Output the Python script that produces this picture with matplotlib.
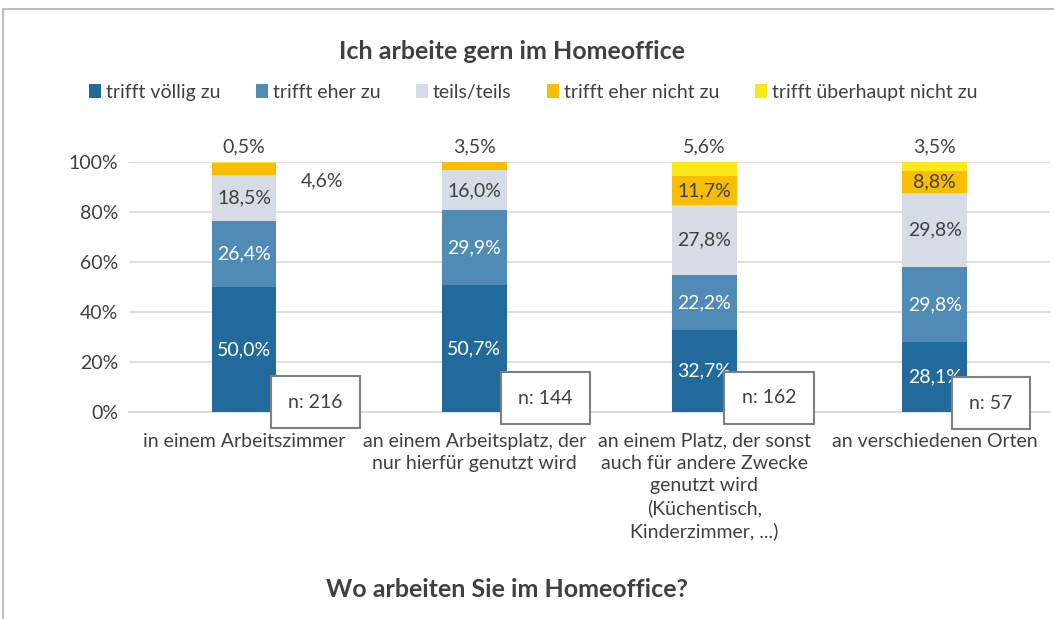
import numpy as np
import matplotlib.pyplot as plt
from matplotlib.patches import Rectangle

plt.rcParams['font.family'] = ['Lato', 'DejaVu Sans']

# Data
categories = ['in einem Arbeitszimmer',
              'an einem Arbeitsplatz, der\nnur hierfür genutzt wird',
              'an einem Platz, der sonst\nauch für andere Zwecke\ngenutzt wird\n(Küchentisch,\nKinderzimmer, ...)',
              'an verschiedenen Orten']
series_names = ['trifft völlig zu', 'trifft eher zu', 'teils/teils',
                'trifft eher nicht zu', 'trifft überhaupt nicht zu']
voellig = [50.0, 50.7, 32.7, 28.1]
eher = [26.4, 29.9, 22.2, 29.8]
teils = [18.5, 16.0, 27.8, 29.8]
eher_nicht = [4.6, 3.5, 11.7, 8.8]
gar_nicht = [0.5, 0.0, 5.6, 3.5]
n_values = [216, 144, 162, 57]

colors = ['#236A9C', '#4F8BB4', '#D6DCE5', '#F8BD07', '#FBE81A']
text_colors = ['white', 'white', '#404040', '#404040', '#404040']
dark = '#404040'
fs = 14

data = [voellig, eher, teils, eher_nicht, gar_nicht]

fig = plt.figure(figsize=(10.54, 6.19), dpi=100)
ax = fig.add_axes([0.1224, 0.3344, 0.8736, 0.4039])

x = np.arange(len(categories))
bottom = np.zeros(len(categories))
bar_width = 0.28
for i, vals in enumerate(data):
    vals = np.array(vals) / 100
    ax.bar(x, vals, bottom=bottom, width=bar_width, color=colors[i],
           label=series_names[i], zorder=3)
    for j, v in enumerate(vals):
        if v == 0:
            continue
        label = f'{v*100:.1f}%'.replace('.', ',')
        if v >= 0.08:
            ax.text(x[j], bottom[j] + v / 2, label, ha='center', va='center',
                    color=text_colors[i], fontsize=fs, zorder=4)
        elif j == 0 and i == 3:
            # small segment, label beside the bar
            ax.text(x[j] + 0.34, 0.925, label, ha='center', va='center',
                    color=dark, fontsize=fs)
        else:
            ax.text(x[j], 1.06, label, ha='center', va='center',
                    color=dark, fontsize=fs, clip_on=False)
    bottom += vals

# n boxes
n_offsets = [0.31, 0.31, 0.28, 0.245]
n_heights = [0.04, 0.056, 0.058, 0.036]
for j, n in enumerate(n_values):
    ax.text(x[j] + n_offsets[j], n_heights[j], f'n: {n}', ha='center', va='center',
            fontsize=fs, color=dark, zorder=6, clip_on=False,
            bbox=dict(boxstyle='square,pad=0.9', fc='white', ec='#7F7F7F', lw=1.5))

ax.set_xlim(-0.5, 3.5)
ax.set_ylim(0, 1)
ax.set_yticks(np.arange(0, 1.01, 0.2))
ax.set_yticklabels([f'{int(t*100)}%' for t in np.arange(0, 1.01, 0.2)])
ax.set_xticks(x)
ax.set_xticklabels(categories, linespacing=1.35)
ax.tick_params(axis='both', length=0, labelsize=fs, colors=dark)
ax.tick_params(axis='x', pad=15)
ax.tick_params(axis='y', pad=8)
ax.yaxis.grid(True, color='#D9D9D9', lw=1.2, zorder=0)
for s in ['left', 'right', 'top']:
    ax.spines[s].set_visible(False)
ax.spines['bottom'].set_color('#D9D9D9')
ax.spines['bottom'].set_linewidth(1.2)

# Titles
fig.text(0.486, 0.917, 'Ich arbeite gern im Homeoffice', ha='center', va='center',
         fontsize=18, fontweight='bold', color=dark)
fig.text(0.481, 0.048, 'Wo arbeiten Sie im Homeoffice?', ha='center', va='center',
         fontsize=18, fontweight='bold', color=dark)

# Legend
fig.legend(loc='center', bbox_to_anchor=(0.506, 0.851), ncol=5, frameon=False,
           fontsize=fs, handlelength=0.6, handleheight=0.7, handletextpad=0.25,
           columnspacing=1.85, labelcolor=dark)

# Chart border
fig.add_artist(Rectangle((3 / 1054, -0.1), 1.2, 1.1 - 9 / 619, transform=fig.transFigure,
                         fill=False, ec='#BFBFBF', lw=1.5))

fig.savefig('out.png', dpi=100)
